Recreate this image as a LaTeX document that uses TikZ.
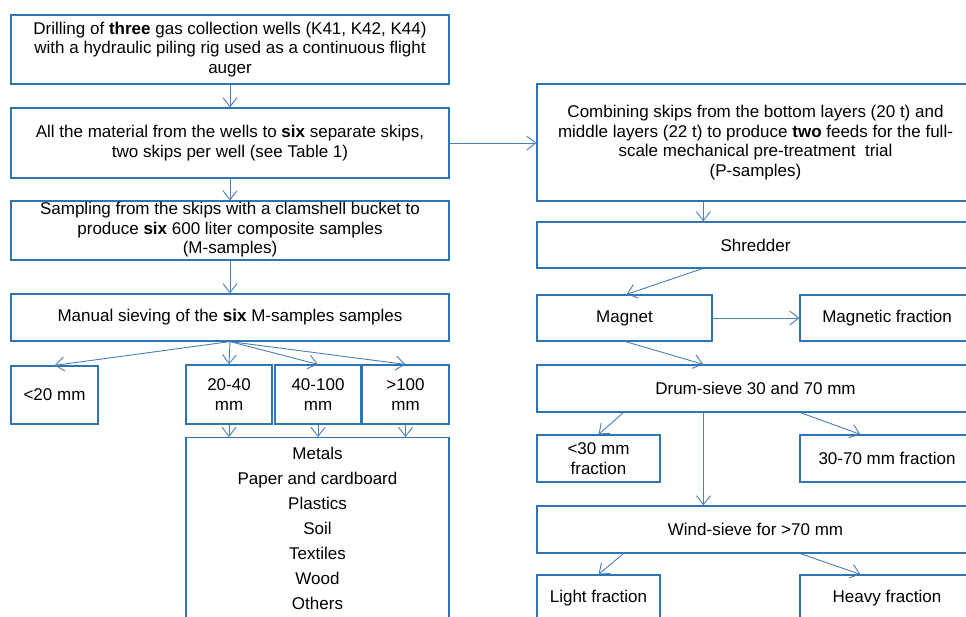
\documentclass[tikz,border=0pt]{standalone}
\usepackage{fontspec}
\setmainfont{Liberation Sans}
\usetikzlibrary{arrows.meta}
\definecolor{boxblue}{HTML}{2E75B6}
\definecolor{arrblue}{HTML}{4A7EBB}
\begin{document}
\begin{tikzpicture}[x=1pt,y=-1pt,
  box/.style={draw=boxblue, line width=1.2pt, rectangle, inner sep=0pt, align=center,
    font=\fontsize{17}{19.5}\selectfont},
  conn/.style={draw=arrblue, line width=0.9pt, -{Straight Barb[length=9pt,width=14pt]}}]
\useasboundingbox (0,0) rectangle (966,617);
\clip (0,0) rectangle (966,617);
% left column
\node[box, minimum width=438pt, minimum height=69pt] (b1) at (230,49.5)
  {Drilling of \textbf{three} gas collection wells (K41, K42, K44)\\with a hydraulic piling rig used as a continuous flight\\auger};
\node[box, minimum width=438pt, minimum height=70pt] (b2) at (230,143)
  {All the material from the wells to \textbf{six} separate skips,\\two skips per well (see Table 1)};
\node[box, minimum width=438pt, minimum height=59pt] (b3) at (230,230.5)
  {\raisebox{-2pt}{\begin{tabular}{@{}c@{}}Sampling from the skips with a clamshell bucket to\\produce \textbf{six} 600 liter composite samples\\(M-samples)\end{tabular}}};
\node[box, minimum width=438pt, minimum height=47pt] (b4) at (230,317.5)
  {Manual sieving of the \textbf{six} M-samples samples};
\node[box, minimum width=87pt, minimum height=58pt] (s20) at (54.5,395) {<20 mm};
\node[box, minimum width=86pt, minimum height=59pt] (s2040) at (229,394.5) {20-40\\mm};
\node[box, minimum width=86pt, minimum height=59pt] (s40100) at (318,394.5) {40-100\\mm};
\node[box, minimum width=87pt, minimum height=59pt] (s100) at (405.5,394.5) {>100\\mm};
\node[box, anchor=north, minimum width=263pt, inner ysep=10pt] (cats) at (317.5,437)
  {\begin{minipage}[t][240pt][t]{263pt}\centering\fontsize{17}{25}\selectfont
   Metals\\Paper and cardboard\\Plastics\\Soil\\Textiles\\Wood\\Others\end{minipage}};
% right column
\node[box, minimum width=437pt, minimum height=117pt] (r1) at (755.5,142.5)
  {Combining skips from the bottom layers (20 t) and\\middle layers (22 t) to produce \textbf{two} feeds for the full-\\scale mechanical pre-treatment\ \ trial\\(P-samples)};
\node[box, minimum width=437pt, minimum height=46pt] (shred) at (755.5,245) {Shredder};
\node[box, minimum width=175pt, minimum height=46pt] (magnet) at (624.5,318) {Magnet};
\node[box, minimum width=174pt, minimum height=46pt] (magfr) at (887,318) {Magnetic fraction};
\node[box, minimum width=437pt, minimum height=47pt] (drum) at (755.5,388.5) {Drum-sieve 30 and 70 mm};
\node[box, minimum width=123pt, minimum height=47pt] (lt30) at (598.5,458.5) {<30 mm\\fraction};
\node[box, minimum width=174pt, minimum height=47pt] (f3070) at (887,458.5) {30-70 mm fraction};
\node[box, minimum width=437pt, minimum height=47pt] (wind) at (755.5,529.5) {Wind-sieve for >70 mm};
\node[box, minimum width=123pt, minimum height=46pt] (light) at (598.5,598) {Light fraction};
\node[box, minimum width=174pt, minimum height=46pt] (heavy) at (887,598) {Heavy fraction};
% connectors left
\draw[conn] (b1.south) -- (b2.north);
\draw[conn] (b2.south) -- (b3.north);
\draw[conn] (b3.south) -- (b4.north);
\draw[conn] (b4.south) -- (s20.north);
\draw[conn] (b4.south) -- (s2040.north);
\draw[conn] (b4.south) -- (s40100.north);
\draw[conn] (b4.south) -- (s100.north);
\draw[conn] (s2040.south) -- (s2040.south |- cats.north);
\draw[conn] (s40100.south) -- (s40100.south |- cats.north);
\draw[conn] (s100.south) -- (s100.south |- cats.north);
\draw[conn] (b2.east) -- (b2.east -| r1.west);
% connectors right
\draw[conn] ([xshift=167pt]r1.south west) -- ([xshift=167pt]shred.north west);
\draw[conn] ([xshift=166pt]shred.south west) -- ([xshift=2pt]magnet.north);
\draw[conn] (magnet.east) -- (magfr.west);
\draw[conn] ([xshift=1pt]magnet.south) -- ([xshift=167pt]drum.north west);
\draw[conn] ([xshift=87pt]drum.south west) -- (lt30.north);
\draw[conn] ([xshift=167pt]drum.south west) -- ([xshift=167pt]wind.north west);
\draw[conn] ([xshift=264pt]drum.south west) -- ([xshift=61pt]f3070.north west);
\draw[conn] ([xshift=87pt]wind.south west) -- (light.north);
\draw[conn] ([xshift=264pt]wind.south west) -- ([xshift=61pt]heavy.north west);
\end{tikzpicture}
\end{document}
